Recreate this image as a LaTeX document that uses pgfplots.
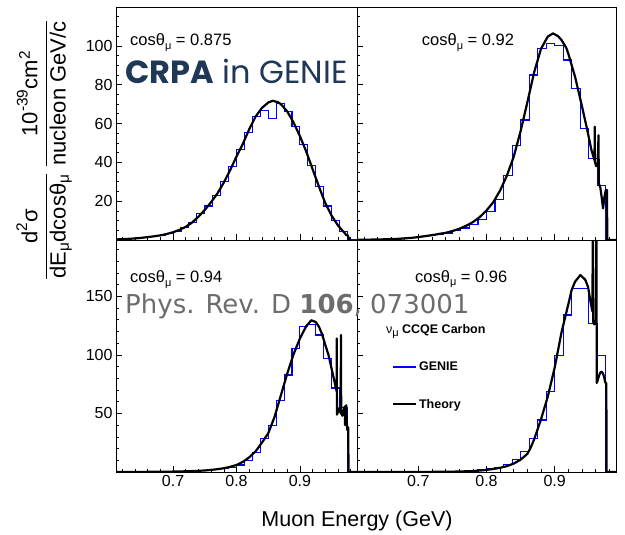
\documentclass[border=0pt]{standalone}
\usepackage{fontspec}
\setmainfont{Liberation Sans}
\newfontfamily\crpafont{Poppins}
\newfontfamily\prdfont{DejaVu Sans}
\usepackage{amsmath}
\usepackage{pgfplots}
\pgfplotsset{compat=1.18}

\definecolor{navy}{RGB}{31,56,88}
\definecolor{prdgray}{RGB}{108,108,108}
\definecolor{genieblue}{RGB}{0,0,255}

\newcommand{\fs}[1]{\fontsize{#1}{#1}\selectfont}
\newcommand{\mus}{\raisebox{-0.45ex}{\fs{11}μ}}

\pgfplotsset{
  panel/.style={
    scale only axis, anchor=north west,
    xmin=0.61, xmax=0.99, ymin=0,
    axis line style={line width=0.7pt},
    tick pos=left, tick align=inside,
    major tick length=6pt, minor tick length=3pt,
    every tick/.style={black, line width=0.6pt},
    xtick={0.7,0.8,0.9},
    minor xtick={0.62,0.64,0.66,0.68,0.72,0.74,0.76,0.78,0.82,0.84,0.86,0.88,0.92,0.94,0.96,0.98},
    /pgf/number format/assume math mode=true,
    tick label style={font=\fs{16}},
    xticklabel style={/pgf/number format/fixed, /pgf/number format/precision=1},
  },
  toprow/.style={ymax=120, ytick={20,40,60,80,100},
    minor ytick={5,10,15,25,30,35,45,50,55,65,70,75,85,90,95,105,110,115},
    xticklabels={}},
  botrow/.style={ymax=198, ytick={50,100,150},
    minor ytick={10,20,30,40,60,70,80,90,110,120,130,140,160,170,180,190}},
  genie/.style={const plot mark left, draw=genieblue, line width=1.1pt, no marks},
  theory/.style={draw=black, line width=2.2pt, no marks, line join=round},
}

\begin{document}
\begin{tikzpicture}
\path[use as bounding box] (0,0) rectangle (625pt,-535pt);

% cos = 0.875
\begin{axis}[panel, toprow, at={(116pt,-7pt)}, width=241pt, height=233pt]
\addplot[genie] coordinates {
(0.6,0.3) (0.6125,0.4) (0.625,0.6) (0.6375,0.9) (0.65,1.3) (0.6625,1.8) (0.675,2.4)
(0.6875,3.4) (0.7,4.6) (0.7125,6.3) (0.725,9.0) (0.7375,13.5) (0.75,17.5) (0.7625,23.0)
(0.775,30.0) (0.7875,38.0) (0.8,46.5) (0.8125,55.5) (0.825,63.5) (0.8375,66.5) (0.85,62.7)
(0.8625,70.4) (0.875,66.0) (0.8875,58.5) (0.9,49.0) (0.9125,38.5) (0.925,27.5) (0.9375,17.5)
(0.95,10.0) (0.9625,4.5) (0.975,0) (0.99,0)
};
\addplot[theory] coordinates {
(0.61,0.3) (0.62,0.4) (0.63,0.6) (0.64,0.8) (0.65,1.1) (0.66,1.5) (0.67,1.9) (0.68,2.4)
(0.69,3.1) (0.70,4.0) (0.71,5.2) (0.72,6.8) (0.73,9.0) (0.74,12.0) (0.75,15.5) (0.76,19.5)
(0.77,24.0) (0.78,29.6) (0.79,36.0) (0.80,43.0) (0.81,49.5) (0.82,57.0) (0.83,63.5)
(0.84,68.0) (0.85,70.8) (0.857,71.7) (0.865,71.0) (0.87,70.0) (0.88,66.2) (0.89,60.5)
(0.90,53.5) (0.91,45.5) (0.92,36.5) (0.93,27.5) (0.94,19.0) (0.95,12.5) (0.96,7.5)
(0.965,5.6) (0.97,3.8) (0.9735,2.4) (0.975,2.6) (0.977,1.0) (0.978,0)
};
\end{axis}

% cos = 0.92
\begin{axis}[panel, toprow, at={(357pt,-7pt)}, width=259pt, height=233pt, yticklabels={}]
\addplot[genie] coordinates {
(0.6,0.1) (0.6125,0.1) (0.625,0.2) (0.6375,0.3) (0.65,0.4) (0.6625,0.5) (0.675,0.8)
(0.6875,1.2) (0.7,1.7) (0.7125,2.3) (0.725,2.9) (0.7375,3.6) (0.75,4.7) (0.7625,6.2)
(0.775,8.2) (0.7875,10.5) (0.8,14.5) (0.8125,21.0) (0.825,33.0) (0.8375,48.9) (0.85,61.8)
(0.8625,85.0) (0.875,98.7) (0.8875,101.3) (0.9,100.4) (0.9125,92.7) (0.925,78.1)
(0.9375,57.5) (0.95,42.0) (0.9625,28.3) (0.975,0) (0.99,0)
};
\addplot[theory] coordinates {
(0.61,0.1) (0.63,0.2) (0.65,0.35) (0.67,0.6) (0.69,1.1) (0.70,1.5) (0.71,2.0) (0.72,2.5)
(0.73,3.1) (0.74,3.7) (0.75,4.6) (0.76,5.8) (0.77,7.3) (0.78,9.2) (0.79,11.8) (0.80,15.2)
(0.81,19.5) (0.82,25.5) (0.83,33.2) (0.84,43.0) (0.85,56.0) (0.86,71.0) (0.87,86.5)
(0.88,98.5) (0.89,104.8) (0.8975,106.4) (0.905,105.0) (0.91,103.0) (0.917,99.0)
(0.92,96.0) (0.93,84.0) (0.94,69.0) (0.947,58.0) (0.954,46.3) (0.9585,41.0)
(0.9588,58.3) (0.9592,40.0) (0.961,38.0) (0.9635,40.0) (0.9643,54.0) (0.9648,29.2)
(0.967,27.0) (0.969,22.0) (0.971,16.3) (0.973,22.0) (0.975,25.7) (0.9768,25.7)
(0.9772,0) (0.99,0)
};
\end{axis}

% cos = 0.94
\begin{axis}[panel, botrow, at={(116pt,-240pt)}, width=241pt, height=232pt]
\addplot[genie] coordinates {
(0.6,0) (0.6125,0) (0.625,0.1) (0.6375,0.1) (0.65,0.1) (0.6625,0.1) (0.675,0.2)
(0.6875,0.3) (0.7,0.4) (0.7125,0.5) (0.725,0.7) (0.7375,1.0) (0.75,1.4) (0.7625,2.0)
(0.775,2.8) (0.7875,4.0) (0.8,6.0) (0.8125,9.5) (0.825,17.0) (0.8375,28.8) (0.85,40.0)
(0.8625,61.4) (0.875,82.8) (0.8875,105.5) (0.9,124.0) (0.9125,125.5) (0.925,116.9)
(0.9375,97.0) (0.95,71.7) (0.9625,55.0) (0.975,0) (0.99,0)
};
\addplot[theory] coordinates {
(0.61,0) (0.65,0.1) (0.68,0.2) (0.70,0.35) (0.72,0.6) (0.74,1.0) (0.75,1.3) (0.76,1.8)
(0.77,2.4) (0.78,3.2) (0.79,4.4) (0.80,6.0) (0.81,8.6) (0.82,12.5) (0.83,17.5)
(0.84,25.0) (0.85,33.0) (0.86,47.0) (0.87,65.5) (0.88,84.0) (0.89,100.5) (0.90,114.0)
(0.91,124.5) (0.918,129.5) (0.925,128.0) (0.93,124.0) (0.935,117.5) (0.94,108.5)
(0.945,100.0) (0.95,88.0) (0.955,76.0) (0.9578,69.0) (0.958,114.0) (0.9584,49.0)
(0.9605,52.0) (0.963,55.0) (0.9643,50.0) (0.9647,117.0) (0.9651,50.0) (0.967,48.0)
(0.969,52.0) (0.9706,56.0) (0.9712,40.0) (0.973,57.0) (0.9745,36.0) (0.9762,38.0)
(0.9766,0) (0.99,0)
};
\end{axis}

% cos = 0.96
\begin{axis}[panel, botrow, at={(357pt,-240pt)}, width=259pt, height=232pt, yticklabels={},
  legend style={draw=none, fill=none, at={(rel axis cs:0.134,0.646)}, anchor=north west,
    font=\fs{12.5}\bfseries, row sep=23pt, inner sep=0pt},
  legend cell align=left,
  legend image code/.code={\draw[#1] (0pt,0pt) -- (23pt,0pt);}]
\addlegendimage{empty legend}
\addlegendentry{\hspace*{-33pt}{\mdseries ν\mus}\ CCQE Carbon}
\addplot[genie] coordinates {
(0.6,0) (0.6125,0) (0.625,0) (0.6375,0) (0.65,0) (0.6625,0) (0.675,0)
(0.6875,0) (0.7,0) (0.7125,0.1) (0.725,0.1) (0.7375,0.2) (0.75,0.35) (0.7625,0.6)
(0.775,1.0) (0.7875,1.7) (0.8,2.7) (0.8125,4.2) (0.825,6.5) (0.8375,10.5) (0.85,17.3)
(0.8625,28.8) (0.875,44.4) (0.8875,68.5) (0.9,99.8) (0.9125,134.0) (0.925,156.7)
(0.9375,156.7) (0.95,126.9) (0.9625,99.8) (0.975,0) (0.99,0)
};
\addlegendentry{GENIE}
\addplot[theory] coordinates {
(0.61,0) (0.70,0.05) (0.74,0.2) (0.76,0.4) (0.78,0.8) (0.79,1.2) (0.80,1.8) (0.81,2.6)
(0.82,3.6) (0.83,5.0) (0.84,7.2) (0.85,10.5) (0.86,15.5) (0.865,21.0) (0.87,28.0)
(0.88,45.0) (0.89,64.5) (0.90,89.0) (0.91,119.0) (0.92,143.0) (0.925,155.5)
(0.93,162.5) (0.9378,168.1) (0.945,164.0) (0.949,158.0) (0.953,144.0) (0.9555,137.0)
(0.9560,230) (0.9566,128.0) (0.958,126.0) (0.9605,130.0) (0.9612,230) (0.9618,76.0)
(0.963,78.0) (0.965,82.0) (0.967,85.0) (0.969,85.6) (0.971,84.0) (0.973,80.0)
(0.9745,76.0) (0.9758,76.0) (0.9762,0) (0.99,0)
};
\addlegendentry{Theory}
\end{axis}

% panel labels
\node[anchor=base west, inner sep=0pt, font=\fs{16.5}] at (130pt,-45.7pt) {cosθ\mus{} = 0.875};
\node[anchor=base west, inner sep=0pt, font=\fs{16.5}] at (421.7pt,-46pt) {cosθ\mus{} = 0.92};
\node[anchor=base west, inner sep=0pt, font=\fs{16.5}] at (130pt,-282.7pt) {cosθ\mus{} = 0.94};
\node[anchor=base west, inner sep=0pt, font=\fs{16.5}] at (415pt,-282pt) {cosθ\mus{} = 0.96};

% overlays
\node[anchor=base west, inner sep=0pt, text=navy, font=\crpafont\fs{32}] at (125pt,-83.3pt)
  {\textbf{CRPA} in GENIE};
\node[anchor=base west, inner sep=0pt, text=prdgray, font=\prdfont\fs{26}] at (125pt,-313pt)
  {Phys. Rev. D \textbf{106}, 073001};

% axis titles
\node[anchor=base, inner sep=0pt, font=\fs{21.5}] at (357pt,-526.7pt) {Muon Energy (GeV)};
\node[rotate=90, inner sep=0pt, font=\fs{22}] at (44pt,-150pt)
  {$\displaystyle\frac{\text{d}^{\text{2}}\text{σ}}{\text{dE}_{\text{μ}}\text{dcosθ}_{\text{μ}}}
   \hspace{6pt}\frac{\text{10}^{\text{-39}}\text{cm}^{\text{2}}}{\text{nucleon GeV/c}}$};
\end{tikzpicture}
\end{document}
